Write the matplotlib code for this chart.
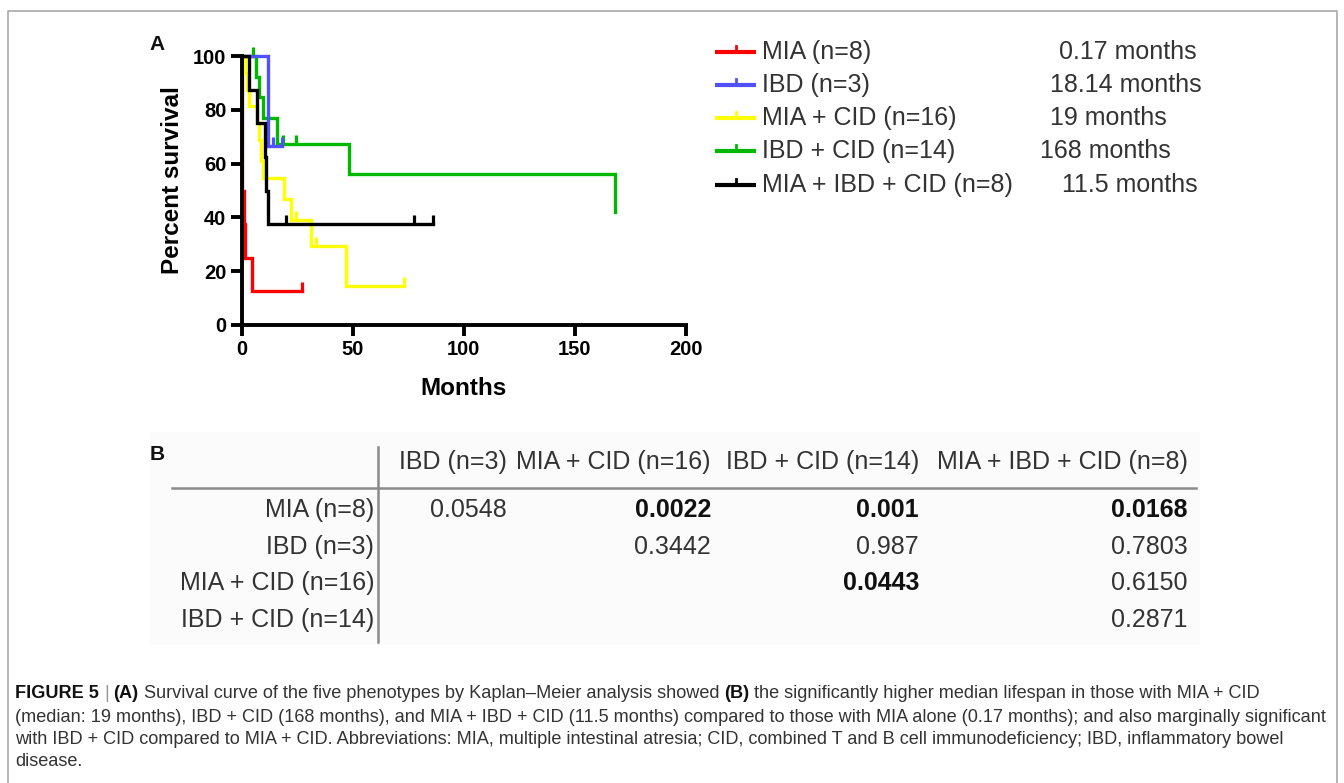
import matplotlib
matplotlib.use('Agg')
import matplotlib.pyplot as plt
from matplotlib.markers import TICKUP
import numpy as np

plt.rcParams['font.family'] = ['Liberation Sans', 'DejaVu Sans']

# ---------------- data ----------------
groups = ['MIA (n=8)', 'IBD (n=3)', 'MIA + CID (n=16)', 'IBD + CID (n=14)', 'MIA + IBD + CID (n=8)']
medians = ['0.17 months', '18.14 months', '19 months', '168 months', '11.5 months']
colors = ['#ff0000', '#5050ff', '#ffff00', '#00b800', '#000000']

mia_t = [0, 0.17, 1.2, 1.6, 4.5, 27]
mia_s = [100, 50, 37.5, 25, 12.5, 12.5]
mia_c = [27]

ibd_t = [0, 12, 18]
ibd_s = [100, 66.7, 66.7]
ibd_c = [14, 18]

miacid_t = [0, 1.5, 2.5, 3.2, 6.7, 7.6, 8.8, 9.6, 19.2, 22.2, 31, 47, 73]
miacid_s = [100, 93.8, 87.5, 81.3, 75, 68.8, 61.1, 54.6, 46.8, 39.0, 29.3, 14.6, 14.6]
miacid_c = [24.4, 33.6, 73]

ibdcid_t = [0, 6.5, 8, 9.5, 15.7, 48.2, 168]
ibdcid_s = [100, 92.3, 84.6, 76.9, 67.3, 56.1, 42]
ibdcid_c = [5, 18.6, 24.5]

all_t = [0, 3.5, 7, 10.3, 11, 11.7, 86]
all_s = [100, 87.5, 75, 62.5, 50, 37.5, 37.5]
all_c = [20, 77.6, 86]

x_ticks = [0, 50, 100, 150, 200]
y_ticks = [0, 20, 40, 60, 80, 100]

table_cols = ['IBD (n=3)', 'MIA + CID (n=16)', 'IBD + CID (n=14)', 'MIA + IBD + CID (n=8)']
table_rows = ['MIA (n=8)', 'IBD (n=3)', 'MIA + CID (n=16)', 'IBD + CID (n=14)']
pvals_mia = ['0.0548', '0.0022', '0.001', '0.0168']
pvals_ibd = [None, '0.3442', '0.987', '0.7803']
pvals_miacid = [None, None, '0.0443', '0.6150']
pvals_ibdcid = [None, None, None, '0.2871']
bold_mia = [False, True, True, True]
bold_ibd = [False, False, False, False]
bold_miacid = [False, False, True, False]
bold_ibdcid = [False, False, False, False]

cap_l1 = [('FIGURE 5', 'bold', '#111111'), ('|', 'normal', '#999999'), ('(A)', 'bold', '#111111'),
          ('Survival curve of the five phenotypes by Kaplan\u2013Meier analysis showed', 'normal', '#333333'),
          ('(B)', 'bold', '#111111'),
          ('the significantly higher median lifespan in those with MIA + CID', 'normal', '#333333')]
cap_l2 = '(median: 19 months), IBD + CID (168 months), and MIA + IBD + CID (11.5 months) compared to those with MIA alone (0.17 months); and also marginally significant'
cap_l3 = 'with IBD + CID compared to MIA + CID. Abbreviations: MIA, multiple intestinal atresia; CID, combined T and B cell immunodeficiency; IBD, inflammatory bowel'
cap_l4 = 'disease.'

# ---------------- figure ----------------
W, H = 1344, 783
fig = plt.figure(figsize=(W / 100, H / 100), dpi=100)
fig.patch.set_facecolor('white')

ov = fig.add_axes([0, 0, 1, 1], zorder=0)
ov.set_xlim(0, W)
ov.set_ylim(H, 0)
ov.axis('off')
ov.patch.set_alpha(0)

# frame
ov.plot([8, 8, 1337, 1337], [H + 5, 11, 11, H + 5], color='#a8a8a8', lw=1.2, clip_on=False)

# KM axes
x0, x200, y0, y100 = 241.7, 686.0, 325.0, 56.0
ax = fig.add_axes([x0 / W, 1 - y0 / H, (x200 - x0) / W, (y0 - y100) / H], zorder=2)
ax.patch.set_alpha(0)

series = [
    (mia_t, mia_s, mia_c, 0),
    (miacid_t, miacid_s, miacid_c, 2),
    (ibdcid_t, ibdcid_s, ibdcid_c, 3),
    (ibd_t, ibd_s, ibd_c, 1),
    (all_t, all_s, all_c, 4),
]
for t, s, c, gi in series:
    col = colors[gi]
    ax.step(t, s, where='post', color=col, lw=2.4, clip_on=False, solid_joinstyle='miter', zorder=3)
    tt = np.asarray(t)
    ss = np.asarray(s)
    idx = np.searchsorted(tt, np.asarray(c), side='right') - 1
    ax.plot(c, ss[idx], ls='none', marker=TICKUP, ms=6.5, mew=2.3, color=col, clip_on=False, zorder=3)

ax.set_xlim(0, 200)
ax.set_ylim(0, 100)
ax.set_xticks(x_ticks)
ax.set_xticklabels([str(v) for v in x_ticks], fontweight='bold', fontsize=14.5)
ax.set_yticks(y_ticks)
ax.set_yticklabels([str(v) for v in y_ticks], fontweight='bold', fontsize=14.5)
for sp in ['top', 'right']:
    ax.spines[sp].set_visible(False)
for sp in ['left', 'bottom']:
    ax.spines[sp].set_linewidth(2.8)
    ax.spines[sp].set_zorder(4)
ax.tick_params(length=8, width=2.8, pad=3, colors='black')
ax.set_xlabel('Months', fontweight='bold', fontsize=17.5, labelpad=13)
ax.set_ylabel('Percent survival', fontweight='bold', fontsize=17.5)
ax.yaxis.set_label_coords(-0.13, 0.54)

ov.text(157, 44, 'A', fontsize=15, fontweight='bold', ha='center', va='center', color='#111111')

# legend
leg_y = [52, 85, 118, 151, 185]
med_x = [1059, 1050, 1050, 1040, 1062]
for i, g in enumerate(groups):
    y = leg_y[i]
    ov.plot([715, 756], [y, y], color=colors[i], lw=3, solid_capstyle='butt')
    ov.plot([736, 736], [y, y - 6], color=colors[i], lw=2)
    ov.text(762, y, g, fontsize=18, color='#333333', ha='left', va='center')
    ov.text(med_x[i], y, medians[i], fontsize=18, color='#333333', ha='left', va='center')

# table B
ov.add_patch(plt.Rectangle((150, 432), 1050, 213, facecolor='#fbfbfb', edgecolor='none', zorder=0))
ov.text(157, 455, 'B', fontsize=15, fontweight='bold', ha='center', va='center', color='#111111')
col_right = [507, 711, 919, 1188]
head_y = 462
row_y = [510, 547, 583, 620]
for j, ctext in enumerate(table_cols):
    ov.text(col_right[j], head_y, ctext, fontsize=18, color='#333333', ha='right', va='center')
ov.plot([172, 1196], [488, 488], color='#8a8a8a', lw=1.8)
ov.plot([378, 378], [447, 642], color='#8a8a8a', lw=1.8)
row_vals = [pvals_mia, pvals_ibd, pvals_miacid, pvals_ibdcid]
row_bold = [bold_mia, bold_ibd, bold_miacid, bold_ibdcid]
for i, rtext in enumerate(table_rows):
    ov.text(374, row_y[i], rtext, fontsize=18, color='#333333', ha='right', va='center')
    for j, v in enumerate(row_vals[i]):
        if v is None:
            continue
        b = row_bold[i][j]
        ov.text(col_right[j], row_y[i], v, fontsize=18,
                fontweight='bold' if b else 'normal',
                color='#111111' if b else '#333333', ha='right', va='center')

# caption
renderer = fig.canvas.get_renderer()

def twidth(s, fs, weight='normal'):
    t = ov.text(0, 0, s, fontsize=fs, fontweight=weight)
    w = t.get_window_extent(renderer).width
    t.remove()
    return w

fs0 = 12
fs_cap = fs0 * (1330 - 15) / twidth(cap_l2, fs0)
space = twidth('a a', fs_cap) - twidth('aa', fs_cap)
cap_x = 15
cap_y = [694, 717, 739, 761]
x = cap_x
for k, (s, wgt, col) in enumerate(cap_l1):
    ov.text(x, cap_y[0], s, fontsize=fs_cap, fontweight=wgt, color=col, ha='left', va='center')
    x += twidth(s, fs_cap, wgt) + space
for yy, s in zip(cap_y[1:], [cap_l2, cap_l3, cap_l4]):
    ov.text(cap_x, yy, s, fontsize=fs_cap, color='#333333', ha='left', va='center')

fig.savefig('out.png', dpi=100)
